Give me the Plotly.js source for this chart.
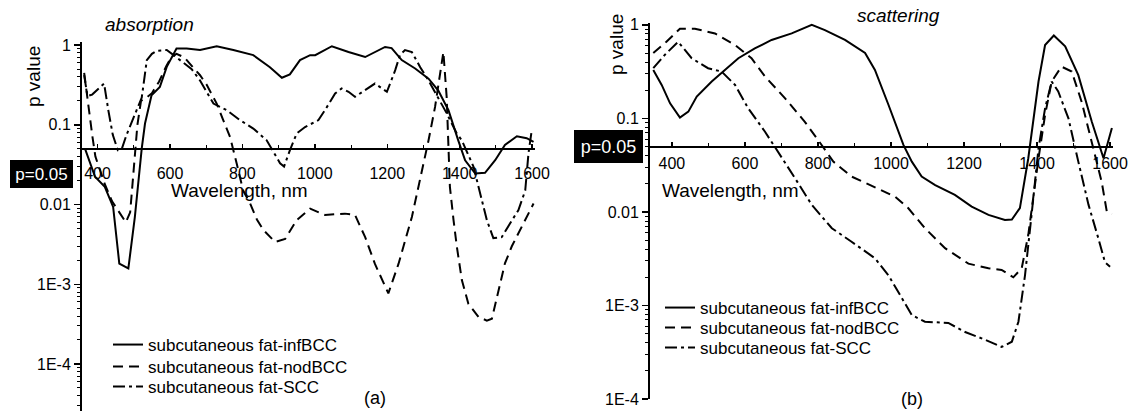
<!DOCTYPE html>
<html>
<head>
<meta charset="utf-8">
<script src="https://cdn.plot.ly/plotly-3.0.1.min.js"></script>
<style>
html,body{margin:0;padding:0;background:#fff;}
#chart{width:1133px;height:411px;}
</style>
</head>
<body>
<div id="chart"></div>
<script>
// ---------- data ----------
var seriesNames = ["subcutaneous fat-infBCC", "subcutaneous fat-nodBCC", "subcutaneous fat-SCC"];

// (a) absorption
var absInfWl = [365,393,420,443,460,485,503,522,531,549,572,591,618,646,683,729,775,830,876,909,931,959,987,1001,1047,1093,1139,1194,1212,1240,1277,1314,1341,1369,1396,1415,1443,1470,1498,1525,1558,1585,1604];
var absInfP  = [0.0506,0.0223,0.0167,0.00935,0.00182,0.00158,0.0070,0.0506,0.104,0.236,0.30,0.534,0.91,0.91,0.87,0.97,0.87,0.75,0.53,0.39,0.43,0.65,0.75,0.75,0.97,0.82,0.71,0.95,0.92,0.65,0.51,0.38,0.27,0.153,0.064,0.036,0.0245,0.025,0.036,0.056,0.072,0.068,0.061];

var absNodWl = [363,370,378,386,394,405,420,440,460,478,490,500,510,520,535,550,570,590,605,618,640,660,683,701,729,747,766,784,802,821,840,858,890,918,950,987,1028,1083,1111,1139,1166,1203,1231,1268,1295,1314,1332,1346,1355,1364,1369,1373,1383,1392,1406,1424,1452,1475,1489,1507,1525,1544,1562,1581,1604];
var absNodP  = [0.45,0.25,0.13,0.07,0.04,0.028,0.018,0.011,0.008,0.006,0.008,0.03,0.1,0.2,0.22,0.25,0.35,0.55,0.72,0.78,0.7,0.55,0.42,0.32,0.185,0.115,0.07,0.033,0.015,0.0104,0.0065,0.0048,0.0034,0.0037,0.0064,0.0089,0.0074,0.0077,0.0074,0.0039,0.0018,0.00077,0.0018,0.007,0.0245,0.064,0.168,0.44,0.82,0.225,0.048,0.0167,0.0064,0.003,0.00113,0.00057,0.00039,0.00035,0.00037,0.00084,0.00183,0.003,0.0043,0.0064,0.0103];

var absSccWl = [363,372,385,398,418,430,442,456,467,480,495,508,522,536,550,563,591,610,635,660,683,720,757,793,830,867,904,915,931,950,973,1010,1028,1056,1074,1093,1111,1139,1166,1199,1222,1235,1249,1268,1291,1314,1337,1364,1392,1406,1438,1461,1475,1493,1516,1539,1562,1581,1590,1599];
var absSccP  = [0.42,0.23,0.24,0.27,0.33,0.15,0.075,0.048,0.05,0.075,0.11,0.16,0.22,0.65,0.78,0.85,0.87,0.75,0.62,0.5,0.36,0.185,0.153,0.115,0.09,0.064,0.033,0.03,0.048,0.078,0.094,0.115,0.153,0.248,0.286,0.26,0.225,0.27,0.33,0.26,0.486,0.75,0.87,0.82,0.53,0.36,0.236,0.14,0.078,0.064,0.03,0.0114,0.0064,0.0038,0.0039,0.0058,0.0085,0.015,0.044,0.086];

// (b) scattering
var scaInfWl = [349,372,395,422,445,468,509,545,582,627,673,728,783,819,874,929,956,993,1034,1057,1084,1121,1175,1221,1267,1312,1331,1353,1376,1404,1422,1446,1477,1513,1550,1582,1605];
var scaInfP  = [0.33,0.228,0.145,0.102,0.118,0.171,0.248,0.33,0.44,0.56,0.69,0.81,1.0,0.88,0.69,0.50,0.33,0.14,0.052,0.0345,0.0239,0.0194,0.0152,0.0114,0.0093,0.0082,0.0083,0.011,0.0375,0.248,0.61,0.77,0.59,0.29,0.092,0.0375,0.079];

var scaNodWl = [349,385,422,463,518,573,618,655,710,764,810,842,892,956,1011,1047,1093,1148,1212,1267,1303,1335,1358,1376,1390,1404,1422,1440,1467,1495,1522,1550,1577,1591,1605];
var scaNodP  = [0.50,0.66,0.91,0.91,0.81,0.61,0.44,0.28,0.164,0.092,0.052,0.0345,0.0239,0.0182,0.0146,0.011,0.0067,0.0041,0.0028,0.0025,0.0024,0.002,0.0025,0.0057,0.0152,0.0375,0.109,0.248,0.358,0.317,0.151,0.0565,0.021,0.0101,0.0095];

var scaSccWl = [349,381,417,454,499,536,573,609,655,691,737,783,838,892,956,993,1029,1057,1093,1157,1203,1258,1303,1331,1349,1367,1385,1404,1422,1440,1458,1486,1513,1541,1568,1586,1600];
var scaSccP  = [0.344,0.48,0.66,0.44,0.344,0.317,0.228,0.128,0.072,0.044,0.023,0.0119,0.0067,0.0048,0.0032,0.0021,0.0012,0.00079,0.00067,0.00065,0.00052,0.00043,0.00036,0.00041,0.00067,0.0021,0.0093,0.048,0.128,0.248,0.194,0.10,0.0345,0.0119,0.0052,0.0029,0.0026];

// tick labels
var xTickVals = [400,600,800,1000,1200,1400,1600];
var xTickText = ["400","600","800","1000","1200","1400","1600"];
var yTickVals = [1,0.1,0.01,0.001,0.0001];
var yTickText = ["1","0.1","0.01","1E-3","1E-4"];
var threshold = 0.05;

// ---------- build ----------
var FONT = "Liberation Sans, Arial, Helvetica, sans-serif";
var dashStyles = ["solid", "10px,6px", "12px,4px,3px,4px"];

function minorVals(lo, hi){
  var v=[];
  for (var k=lo;k<hi;k++){ for (var m=2;m<=9;m++){ v.push(m*Math.pow(10,k)); } }
  return v;
}

function mk(x,y,i,xa,ya,leg){
  return {x:x,y:y,type:"scatter",mode:"lines",name:seriesNames[i],
    xaxis:xa,yaxis:ya,legend:leg,
    line:{color:"#000",width:2,dash:dashStyles[i]}};
}

var traces = [
  mk(absInfWl,absInfP,0,"x","y","legend"),
  mk(absNodWl,absNodP,1,"x","y","legend2"),
  mk(absSccWl,absSccP,2,"x","y","legend3"),
  mk(scaInfWl,scaInfP,0,"x2","y2","legend4"),
  mk(scaNodWl,scaNodP,1,"x2","y2","legend5"),
  mk(scaSccWl,scaSccP,2,"x2","y2","legend6")
];

var W=1133, H=411;
function px(x){return x/W;}
function py(y){return (H-y)/H;}

function xax(domain, range, pos, standoff){
  return {domain:domain, range:range, anchor:"free", position:pos,
    showline:true, linecolor:"#000", linewidth:2, mirror:false,
    showgrid:false, zeroline:false,
    tickmode:"array", tickvals:xTickVals, ticktext:xTickText,
    ticks:"inside", ticklen:4, tickwidth:1.5, tickcolor:"#000",
    ticklabelstandoff:standoff,
    minor:{dtick:100, ticks:"inside", ticklen:3, tickwidth:1, tickcolor:"#000", showgrid:false},
    tickfont:{family:FONT,size:16,color:"#000"}};
}
function yax(domain, range, anchor, mlo){
  return {domain:domain, type:"log", range:range, anchor:anchor,
    showline:true, linecolor:"#000", linewidth:2,
    showgrid:false, zeroline:false,
    tickmode:"array", tickvals:yTickVals, ticktext:yTickText,
    ticks:"outside", ticklen:6, tickwidth:1.5, tickcolor:"#000",
    minor:{tickmode:"array", tickvals:minorVals(mlo,0), ticks:"outside", ticklen:3, tickwidth:1, tickcolor:"#000", showgrid:false},
    tickfont:{family:FONT,size:16,color:"#000"}};
}
function leg(x, yTop){
  return {x:px(x), y:py(yTop), xanchor:"left", yanchor:"top", bgcolor:"rgba(0,0,0,0)",
    borderwidth:0, font:{family:FONT,size:17,color:"#000"}, tracegroupgap:0, itemwidth:30};
}
function ann(text, x, y, size, extra){
  var a = {text:text, x:px(x), y:py(y), xref:"paper", yref:"paper", xanchor:"center", yanchor:"middle",
    showarrow:false, font:{family:FONT,size:size,color:"#000"}};
  if (extra) for (var k in extra) a[k]=extra[k];
  return a;
}

var layout = {
  width:W, height:H, margin:{l:0,r:0,t:0,b:0},
  paper_bgcolor:"#fff", plot_bgcolor:"rgba(0,0,0,0)",
  font:{family:FONT,color:"#000"},
  xaxis: xax([px(82),px(535)], [357,1608], py(149), 10),
  yaxis: yax([0, py(42)], [-4.59,0.04], "x", -5),
  xaxis2: xax([px(650),px(1113)], [340,1608], py(146.6), 2),
  yaxis2: yax([py(399), py(23)], [-4,0.02], "x2", -4),
  showlegend:true,
  legend:  leg(108, 327),
  legend2: leg(108, 349),
  legend3: leg(108, 369),
  legend4: leg(660, 290),
  legend5: leg(660, 310),
  legend6: leg(660, 330),
  annotations:[
    ann("<i>absorption</i>", 149, 24, 19),
    ann("<i>scattering</i>", 898, 16, 19),
    ann("p value", 33, 77, 19, {textangle:-90}),
    ann("p value", 617, 45, 19, {textangle:-90}),
    ann("Wavelength, nm", 239, 190, 19),
    ann("Wavelength, nm", 730, 190, 19),
    ann("(a)", 375, 398, 18),
    ann("(b)", 912, 399, 18),
    ann("p=" + threshold.toFixed(2), 41.5, 174, 17,
      {bgcolor:"#000", font:{family:FONT,size:17,color:"#fff"}, width:63, height:28, borderpad:0, borderwidth:0}),
    ann("p=" + threshold.toFixed(2), 608.5, 146.5, 18,
      {bgcolor:"#000", font:{family:FONT,size:18,color:"#fff"}, width:69, height:33, borderpad:0, borderwidth:0})
  ]
};

Plotly.newPlot("chart", traces, layout, {displayModeBar:false, staticPlot:true});
</script>
</body>
</html>
